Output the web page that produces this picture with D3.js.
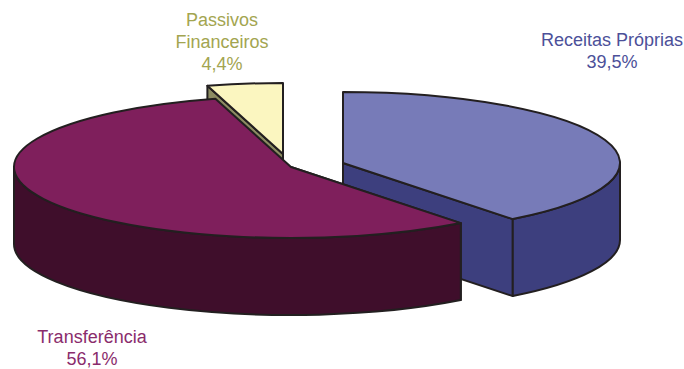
<!DOCTYPE html>
<html>
<head>
<meta charset="utf-8">
<style>
html,body{margin:0;padding:0;background:#fff}
text{font-family:"Liberation Sans",Arial,sans-serif;font-size:18px}
</style>
<script src="https://cdn.jsdelivr.net/npm/d3@7"></script>
</head>
<body>
<svg id="chart" width="684" height="369"></svg>
<script>
// Composition of revenue by source, exploded 3D-style pie
const categories = ["Receitas Próprias", "Transferência", "Passivos Financeiros"];
const shares = [39.5, 56.1, 4.4];
const shareLabels = ["39,5%", "56,1%", "4,4%"];
const labelLines = [["Receitas Próprias"], ["Transferência"], ["Passivos", "Financeiros"]];

const topColors = ["#777bb8", "#7f1f5c", "#fbf6c0"];
const sideColors = ["#3d3f7e", "#3f0e2b", "#8c8c62"];
const textColors = ["#4c5099", "#8a2c6c", "#a3a550"];
const apexes = [[343, 163], [291, 167], [283, 154]];
const labelAnchors = [[612, 46], [92, 343], [222, 26]];

const rx = 277, ry = 71, depth = 77, lineStep = 22.2;
const outline = "#231f20";

const svg = d3.select("#chart");
const slices = d3.pie().sort(null).value(d => d)(shares);

// Project a pie angle (0 at twelve o'clock, clockwise) onto the tilted ellipse
const rim = (c, a, dy = 0) => [c[0] + rx * Math.sin(a), c[1] - ry * Math.cos(a) + dy];

function rimArc(p, c, a0, a1, dy) {
  const q = rim(c, a1, dy);
  const cw = a1 > a0;
  p.push(`A${rx},${ry} 0 ${Math.abs(a1 - a0) > Math.PI ? 1 : 0} ${cw ? 1 : 0} ${q[0]},${q[1]}`);
}

function topPath(s, c) {
  const a = rim(c, s.startAngle), p = [`M${c[0]},${c[1]}`, `L${a[0]},${a[1]}`];
  rimArc(p, c, s.startAngle, s.endAngle, 0);
  p.push("Z");
  return p.join("");
}

// Outer wall: only the part of the rim facing the viewer (90° to 270°)
function wallPath(s, c) {
  const a0 = Math.max(s.startAngle, Math.PI / 2), a1 = Math.min(s.endAngle, 3 * Math.PI / 2);
  if (a1 <= a0) return null;
  const u = rim(c, a0), p = [`M${u[0]},${u[1]}`];
  rimArc(p, c, a0, a1, 0);
  const d = rim(c, a1, depth);
  p.push(`L${d[0]},${d[1]}`);
  rimArc(p, c, a1, a0, depth);
  p.push("Z");
  return p.join("");
}

// Flat cut face running from the apex out to the rim at angle a
function cutPath(c, a) {
  const r = rim(c, a), rd = rim(c, a, depth);
  return `M${c[0]},${c[1]}L${r[0]},${r[1]}L${rd[0]},${rd[1]}L${c[0]},${c[1] + depth}Z`;
}

const stroke = sel => sel.attr("stroke", outline).attr("stroke-width", 2).attr("stroke-linejoin", "round");

// Painter's order: cream slice, blue slice, then the large slice in front
[2, 0, 1].forEach(i => {
  const s = slices[i], c = apexes[i];
  const g = svg.append("g").attr("class", "slice");
  const cutAngle = i === 0 ? s.endAngle : s.startAngle;
  g.append("path").attr("d", cutPath(c, cutAngle)).attr("fill", sideColors[i]).call(stroke);
  const w = wallPath(s, c);
  if (w) g.append("path").attr("d", w).attr("fill", sideColors[i]).call(stroke);
  g.append("path").attr("d", topPath(s, c)).attr("fill", topColors[i]).call(stroke);
});

// Category name and share, centred on each anchor
categories.forEach((name, i) => {
  const t = svg.append("text").attr("text-anchor", "middle").attr("fill", textColors[i]);
  [...labelLines[i], shareLabels[i]].forEach((ln, k) => {
    t.append("tspan").attr("x", labelAnchors[i][0]).attr("y", labelAnchors[i][1] + k * lineStep).text(ln);
  });
});
</script>
</body>
</html>
